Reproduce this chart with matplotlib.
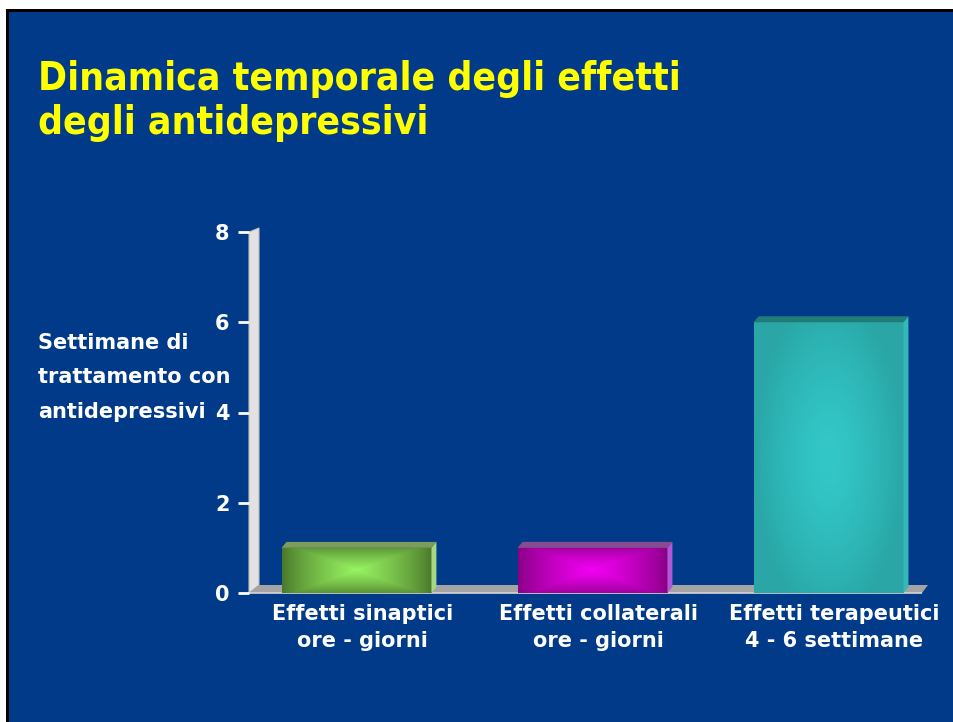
import numpy as np
import matplotlib
matplotlib.use("Agg")
import matplotlib.pyplot as plt
import matplotlib.transforms as mtransforms
from matplotlib.patches import Polygon, Rectangle
from matplotlib.colors import to_rgb

title = "Dinamica temporale degli effetti\ndegli antidepressivi"
ylabel_lines = ["Settimane di", "trattamento con", "antidepressivi"]
categories = ["Effetti sinaptici\nore - giorni",
              "Effetti collaterali\nore - giorni",
              "Effetti terapeutici\n4 - 6 settimane"]
values = [1, 1, 6]
yticks = [0, 2, 4, 6, 8]

# front centre / edge / top / side colours per bar
face_centre = ["#98F562", "#F400F4", "#33C8C8"]
face_edge = ["#497629", "#870084", "#2AA6A6"]
top_col = ["#7C9C5C", "#8A4A92", "#207C78"]
side_col = ["#A6D884", "#B058D8", "#34B8B8"]

BG = "#003A88"
W, H = 954, 722

fig = plt.figure(figsize=(W / 100, H / 100), dpi=100, facecolor=BG)
# slide frame: white margin and black line at top and left
def frame(x0, y0, x1, y1, col):
    fig.patches.append(Rectangle((x0 / W, 1 - y1 / H), (x1 - x0) / W, (y1 - y0) / H,
                                 transform=fig.transFigure, facecolor=col,
                                 edgecolor="none", zorder=-1))
frame(0, 0, W, 9, "white")
frame(0, 0, 6, H, "white")
frame(6, 9, W, 12, "black")
frame(6, 9, 9, H, "black")

fig.text(38 / W, 1 - 60 / H, title, color="#FFFF00", fontsize=28, fontweight="bold",
         fontstretch="condensed", ha="left", va="top", linespacing=1.2)

ax = fig.add_axes([249 / W, 1 - 593 / H, (925 - 249) / W, (593 - 232) / H])
ax.set_facecolor("none")
ax.set_ylim(0, 8)
x = np.arange(len(categories))
xl = (249 - 356.5) / 236
xr = (925 - 356.5) / 236
ax.set_xlim(xl, xr)

# pixel -> data depth offsets
px_x = (xr - xl) / (925 - 249)
px_y = 8 / (593 - 232)

# wall and floor
wdx, wdy = 10 * px_x, 4 * px_y
ax.add_patch(Polygon([(xl, 0), (xl, 8), (xl + wdx, 8 + wdy), (xl + wdx, 8 * px_y)],
                     closed=True, facecolor="#E2E2E2", edgecolor="#BDBDBD", lw=0.8,
                     clip_on=False, zorder=1))
fdx, fdy = 6 * px_x, 8 * px_y
ax.add_patch(Polygon([(xl, 0), (xr - 3 * px_x, 0), (xr + fdx - 3 * px_x, fdy), (xl + wdx, fdy)],
                     closed=True, facecolor="#A4A4A4", edgecolor="none",
                     clip_on=False, zorder=1))
ax.plot([xl, xr - 3 * px_x], [0, 0], color="#D6D6D6", lw=1.2, clip_on=False, zorder=1.5,
        solid_capstyle="butt")

bars = ax.bar(x, values, width=0.635, color="none", edgecolor="none", zorder=3)

bdx, bdy = 5 * px_x, 6 * px_y
for i, p in enumerate(bars.patches):
    x0, w, h = p.get_x(), p.get_width(), p.get_height()
    wp, hp = int(round(w / px_x)), int(round(h / px_y))
    c0 = np.array(to_rgb(face_centre[i]))
    c1 = np.array(to_rgb(face_edge[i]))
    gx, gy = np.meshgrid(np.arange(wp) + 0.5, np.arange(hp) + 0.5)
    u = (gx / wp - 0.5) * 2
    v = (gy / hp - 0.5) * 2
    if i < 2:
        # rectangular "path" gradient, creases running corner to corner
        d = np.maximum(np.abs(u), 0.85 * np.abs(v))
        t = (1 - d) ** 0.8
    else:
        t = 1 - np.clip(np.sqrt(u ** 2 + (v / 1.2) ** 2), 0, 1) ** 1.4
    img = c1[None, None, :] * (1 - t[..., None]) + c0[None, None, :] * t[..., None]
    im = ax.imshow(img, extent=(x0, x0 + w, 0, h), aspect="auto", zorder=3,
                   interpolation="bilinear", origin="lower")
    im.set_clip_path(p)
    ax.add_patch(Polygon([(x0, h), (x0 + bdx, h + bdy), (x0 + w + bdx, h + bdy), (x0 + w, h)],
                         closed=True, facecolor=top_col[i], edgecolor="none", zorder=3))
    ax.add_patch(Polygon([(x0 + w, 0), (x0 + w + bdx, bdy), (x0 + w + bdx, h + bdy), (x0 + w, h)],
                         closed=True, facecolor=side_col[i], edgecolor="none", zorder=3))
ax.set_xlim(xl, xr)
ax.set_ylim(0, 8)

for s in ax.spines.values():
    s.set_visible(False)
ax.set_yticks(yticks)
ax.set_yticklabels([str(t) for t in yticks])
ax.tick_params(axis="y", colors="white", length=8, width=2, pad=6, labelsize=15)
ax.set_xticks(x)
ax.set_xticklabels(categories)
ax.tick_params(axis="x", length=0, pad=8, labelsize=15, colors="white")
shift = mtransforms.ScaledTranslation(6 / 100, 0, fig.dpi_scale_trans)
for lab in ax.get_yticklabels() + ax.get_xticklabels():
    lab.set_fontweight("bold")
for lab in ax.get_xticklabels():
    lab.set_linespacing(1.45)
    lab.set_transform(lab.get_transform() + shift)

for k, line in enumerate(ylabel_lines):
    fig.text(38 / W, 1 - (343 + 34.5 * k) / H, line, color="white", fontsize=15,
             fontweight="bold", ha="left", va="center")

fig.savefig("out.png", dpi=100, facecolor=fig.get_facecolor())
